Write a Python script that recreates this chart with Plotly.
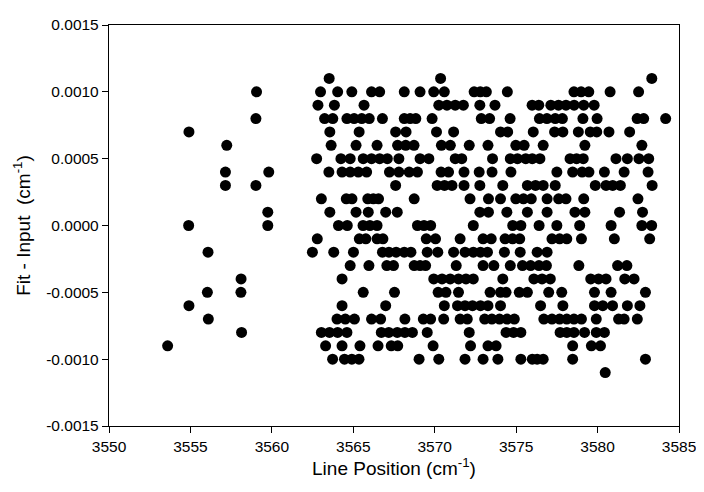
import plotly.graph_objects as go

# Residuals grouped by level (Fit - Input, cm^-1); each list = line positions (cm^-1)
rows = {
    0.0011: [3563.52, 3570.36, 3583.33],
    0.0010: [3559.06, 3562.99, 3564.04, 3564.91, 3566.12, 3566.62, 3568.13, 3569.10, 3569.94, 3570.59,
             3572.42, 3572.80, 3573.17, 3574.46, 3578.55, 3578.99, 3579.46, 3580.77, 3582.52],
    0.0009: [3562.83, 3563.84, 3565.66, 3570.25, 3570.75, 3571.26, 3571.76, 3572.77, 3573.70, 3575.98,
             3576.39, 3577.13, 3577.60, 3578.06, 3578.56, 3579.15, 3579.79],
    0.0008: [3559.02, 3563.24, 3563.74, 3564.61, 3565.05, 3565.52, 3565.98, 3566.79, 3568.13, 3568.49,
             3568.84, 3569.84, 3572.86, 3573.37, 3574.63, 3576.43, 3576.89, 3577.40, 3577.84, 3579.10,
             3579.97, 3582.43, 3582.83, 3584.18],
    0.0007: [3554.91, 3563.56, 3565.36, 3567.60, 3568.24, 3570.11, 3571.16, 3574.04, 3574.48, 3576.05,
             3577.36, 3577.87, 3578.82, 3579.55, 3579.95, 3580.70, 3581.97],
    0.0006: [3557.23, 3563.64, 3565.17, 3566.46, 3567.72, 3568.22, 3568.73, 3570.41, 3570.96, 3572.12,
             3573.27, 3574.98, 3575.49, 3576.66, 3579.22, 3582.72],
    0.0005: [3562.75, 3564.24, 3564.81, 3565.61, 3566.12, 3566.62, 3567.09, 3567.80, 3569.10, 3569.64,
             3571.26, 3571.66, 3573.55, 3574.64, 3575.08, 3575.59, 3575.99, 3576.46, 3578.31, 3578.71,
             3579.12, 3581.13, 3581.83, 3582.54, 3583.14],
    0.0004: [3557.15, 3559.81, 3563.50, 3564.31, 3564.81, 3565.31, 3565.82, 3567.22, 3567.80, 3568.43,
             3568.94, 3570.39, 3570.85, 3571.80, 3572.73, 3573.52, 3574.68, 3577.50, 3578.47, 3579.05,
             3579.47, 3580.42, 3581.63, 3583.10],
    0.0003: [3557.15, 3559.02, 3567.60, 3570.15, 3570.60, 3571.06, 3571.80, 3572.77, 3574.18, 3575.69,
             3576.19, 3576.66, 3577.40, 3579.86, 3580.52, 3580.93, 3581.40, 3583.35],
    0.0002: [3563.04, 3564.57, 3564.92, 3565.89, 3566.23, 3566.55, 3568.74, 3572.17, 3573.30, 3574.04,
             3574.98, 3575.45, 3575.93, 3576.90, 3577.61, 3578.06, 3579.15, 3582.48],
    0.0001: [3559.75, 3563.56, 3565.17, 3565.92, 3566.99, 3567.70, 3572.77, 3573.30, 3574.43, 3575.69,
             3576.90, 3578.61, 3579.22, 3581.35, 3582.76],
    0.0000: [3554.89, 3559.75, 3564.09, 3564.63, 3565.60, 3566.02, 3566.46, 3568.94, 3569.34, 3569.75,
             3572.37, 3574.79, 3575.29, 3576.41, 3577.50, 3578.90, 3580.83, 3582.72, 3583.32],
    -0.0001: [3562.79, 3565.37, 3565.77, 3566.46, 3566.82, 3569.48, 3570.05, 3571.56, 3572.97, 3573.47,
              3574.32, 3574.78, 3575.22, 3577.20, 3577.67, 3578.11, 3579.01, 3581.03, 3583.20],
    -0.0002: [3556.08, 3562.49, 3563.80, 3565.01, 3566.79, 3567.19, 3567.63, 3568.13, 3568.54, 3569.54,
              3570.19, 3571.16, 3571.86, 3572.37, 3572.81, 3573.24, 3574.28, 3575.25, 3576.29, 3576.90],
    -0.0003: [3564.81, 3565.96, 3567.06, 3567.47, 3568.74, 3569.10, 3569.44, 3571.32, 3572.97, 3573.63,
              3574.64, 3575.39, 3575.89, 3576.40, 3576.86, 3578.85, 3581.23, 3581.80],
    -0.0004: [3558.11, 3564.31, 3569.94, 3570.45, 3570.95, 3571.46, 3571.92, 3572.37, 3574.18, 3576.09,
              3576.59, 3577.10, 3579.58, 3580.06, 3580.52, 3581.67, 3582.24],
    -0.0005: [3556.04, 3558.10, 3565.61, 3567.53, 3570.21, 3570.69, 3571.46, 3573.40, 3574.04, 3574.38,
              3575.19, 3575.69, 3577.00, 3577.80, 3579.81, 3580.83, 3582.94],
    -0.0006: [3554.91, 3564.31, 3566.99, 3570.59, 3571.40, 3571.86, 3572.32, 3572.81, 3573.27, 3574.04,
              3576.50, 3577.87, 3579.81, 3580.32, 3580.92, 3581.83, 3582.60],
    -0.0007: [3556.10, 3564.00, 3564.51, 3565.07, 3566.12, 3566.68, 3568.17, 3569.30, 3569.75, 3570.55,
              3571.56, 3572.00, 3573.07, 3573.51, 3573.98, 3574.44, 3574.89, 3576.70, 3577.20, 3577.67,
              3578.11, 3578.55, 3579.01, 3579.92, 3581.29, 3581.63, 3582.44],
    -0.0008: [3558.14, 3563.04, 3563.54, 3564.04, 3564.61, 3566.72, 3567.18, 3567.70, 3568.17, 3568.63,
              3569.54, 3572.12, 3574.38, 3574.84, 3575.29, 3577.70, 3578.11, 3578.55, 3579.20, 3579.92,
              3580.42],
    -0.0009: [3553.60, 3563.30, 3564.31, 3565.41, 3566.52, 3567.33, 3567.73, 3569.90, 3572.20, 3573.27,
              3573.77, 3578.47, 3579.62, 3580.18],
    -0.0010: [3563.73, 3564.46, 3564.91, 3565.35, 3569.04, 3570.25, 3571.86, 3572.97, 3573.88, 3575.29,
              3575.99, 3576.29, 3576.66, 3578.47, 3582.94],
    -0.0011: [3580.47],
}

x_ticks = [3550, 3555, 3560, 3565, 3570, 3575, 3580, 3585]
y_ticks = [0.0015, 0.0010, 0.0005, 0.0, -0.0005, -0.0010, -0.0015]
y_tick_text = ["0.0015", "0.0010", "0.0005", "0.0000", "-0.0005", "-0.0010", "-0.0015"]

xs, ys = [], []
for level, positions in rows.items():
    for p in positions:
        xs.append(p)
        ys.append(level)

fig = go.Figure(go.Scatter(
    x=xs, y=ys, mode="markers",
    marker=dict(color="black", size=11, line=dict(width=0)),
    showlegend=False,
))

font = dict(family="Liberation Sans, Arial, sans-serif", color="black", size=15.5)
fig.update_layout(
    width=696, height=484,
    margin=dict(l=101, r=20, t=8, b=66),
    paper_bgcolor="white", plot_bgcolor="white",
    font=font,
    xaxis=dict(
        range=[3550, 3585], tickmode="array", tickvals=x_ticks,
        ticks="outside", ticklen=6, tickwidth=1, tickcolor="black",
        showline=True, linecolor="black", linewidth=1.3, mirror=True,
        showgrid=False, zeroline=False,
        title=dict(text="Line Position (cm<sup>-1</sup>)", font=dict(size=19), standoff=6),
    ),
    yaxis=dict(
        range=[-0.0015, 0.0015], tickmode="array", tickvals=y_ticks, ticktext=y_tick_text,
        ticks="outside", ticklen=6, tickwidth=1, tickcolor="black",
        showline=True, linecolor="black", linewidth=1.3, mirror=True,
        showgrid=False, zeroline=False,
        title=dict(text="Fit - Input\u00a0 (cm<sup>-1</sup>)", font=dict(size=19), standoff=10),
    ),
)

fig.write_html("out.html")
